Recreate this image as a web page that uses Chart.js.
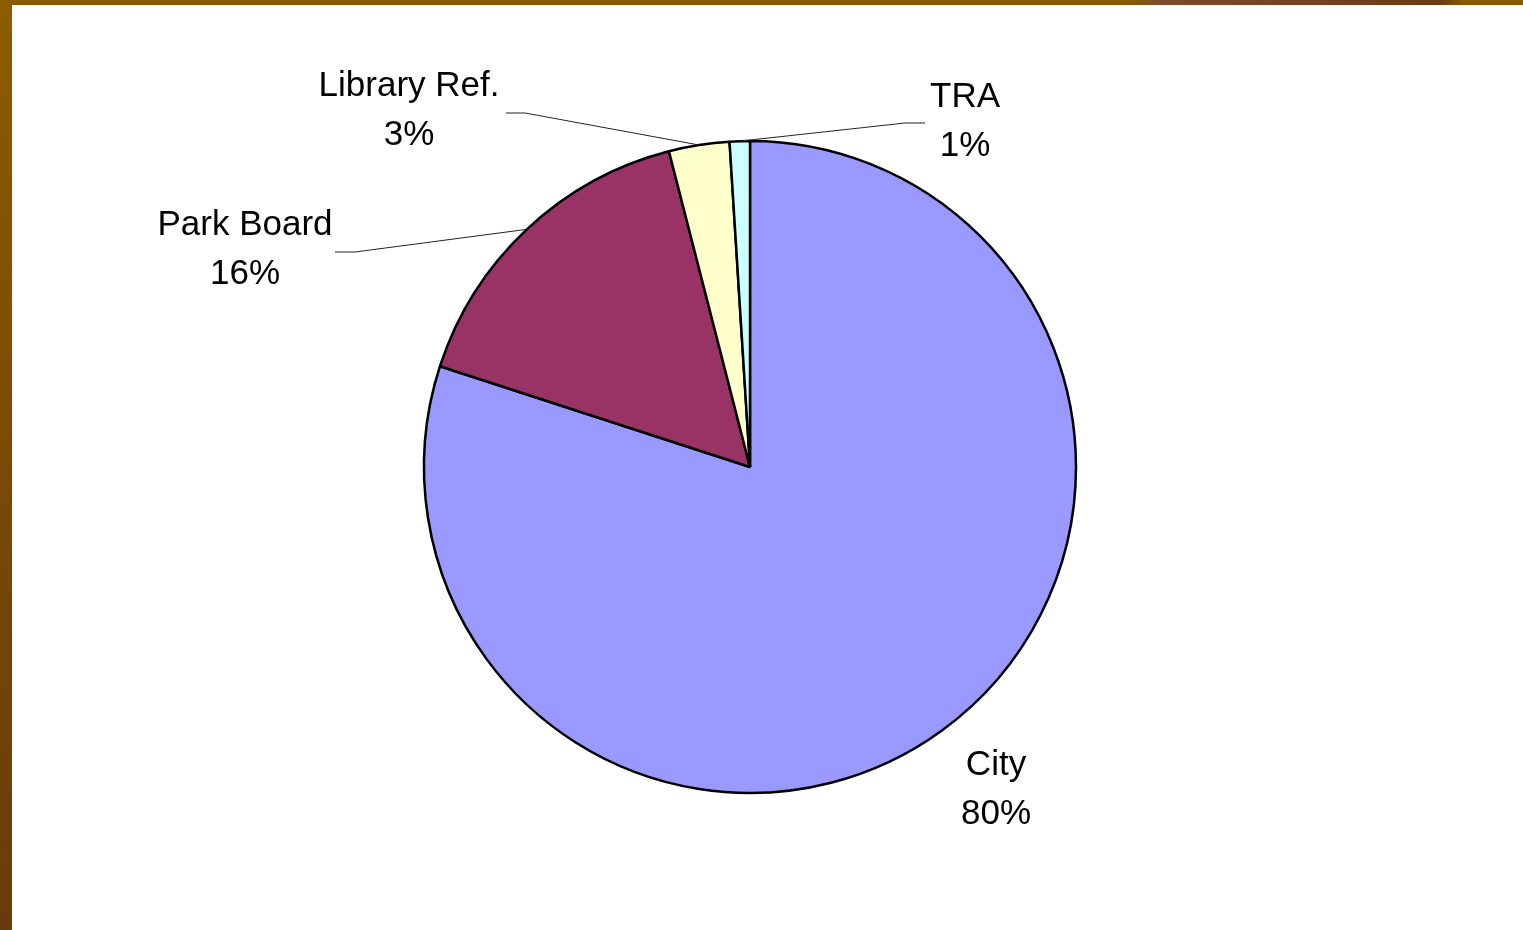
<!DOCTYPE html>
<html>
<head>
<meta charset="utf-8">
<title>Revenue share</title>
<script src="https://cdn.jsdelivr.net/npm/chart.js@4"></script>
<style>
	html, body { margin: 0; padding: 0; background: #fff; }
	body { width: 1523px; height: 930px; position: relative; overflow: hidden; }
	canvas { position: absolute; left: 0; top: 0; }
	/* slide frame: gold top rule and left bar */
	#frameTop {
		position: absolute; left: 0; top: 0; width: 1523px; height: 5px;
		background: linear-gradient(to right, #8b5a00 0, #8b5a00 1125px, #7b4b29 1160px, #6b3a14 1440px, #8b5a00 1465px, #8b5a00 100%);
	}
	#frameLeft {
		position: absolute; left: 0; top: 0; width: 12px; height: 930px;
		background: linear-gradient(to bottom, #8d5c00, #7a4a05 50%, #6a3a0a);
	}
</style>
</head>
<body>
<canvas id="chart" width="1523" height="930"></canvas>
<div id="frameTop"></div>
<div id="frameLeft"></div>
<script>
'use strict';

const
	categories = ['City', 'Park Board', 'Library Ref.', 'TRA'],
	shares = [80, 16, 3, 1],
	sliceColors = ['#9999ff', '#993366', '#ffffcc', '#ccffff'];

/**
 * Label placement, as offsets from the pie centre:
 * text centre / first baseline, and the outer two points of the leader line
 */
const labelPlacement = {
	'City': {dx: 246, dy: 308, leader: null},
	'Park Board': {dx: -505, dy: -232, leader: [[-415, -215], [-395, -215]]},
	'Library Ref.': {dx: -341, dy: -371, leader: [[-244, -354], [-225, -354]]},
	'TRA': {dx: 215, dy: -360, leader: [[175, -344], [155, -344]]}
};

const lineHeight = 49;

/**
 * Draws the category name and share under it, with leader lines to the slices
 */
const sliceLabels = {
	id: 'sliceLabels',

	afterDatasetsDraw(chart) {
		const
			ctx = chart.ctx,
			meta = chart.getDatasetMeta(0),
			total = shares.reduce((a, b) => a + b, 0);

		ctx.save();
		ctx.font = '35px "Liberation Sans", Arial, sans-serif';
		ctx.fillStyle = '#000';
		ctx.strokeStyle = '#222';
		ctx.lineWidth = 1;
		ctx.textAlign = 'center';
		ctx.textBaseline = 'alphabetic';

		meta.data.forEach((arc, i) => {
			const
				{x, y, startAngle, endAngle, outerRadius} = arc.getProps(['x', 'y', 'startAngle', 'endAngle', 'outerRadius'], true),
				place = labelPlacement[categories[i]];

			if (place.leader) {
				const mid = (startAngle + endAngle) / 2;
				ctx.beginPath();
				ctx.moveTo(x + place.leader[0][0], y + place.leader[0][1]);
				ctx.lineTo(x + place.leader[1][0], y + place.leader[1][1]);
				ctx.lineTo(x + Math.cos(mid) * outerRadius, y + Math.sin(mid) * outerRadius);
				ctx.stroke();
			}

			ctx.fillText(categories[i], x + place.dx, y + place.dy);
			ctx.fillText(Math.round(shares[i] / total * 100) + '%', x + place.dx, y + place.dy + lineHeight);
		});

		ctx.restore();
	}
};

new Chart(document.getElementById('chart').getContext('2d'), {
	type: 'pie',
	data: {
		labels: categories,
		datasets: [{
			data: shares,
			backgroundColor: sliceColors,
			borderColor: '#000',
			borderWidth: 2.5,
			hoverOffset: 0,
			radius: 326
		}]
	},
	options: {
		responsive: false,
		animation: false,
		layout: {padding: {left: 0, right: 23, top: 4, bottom: 0}},
		plugins: {
			legend: {display: false},
			tooltip: {enabled: false}
		}
	},
	plugins: [sliceLabels]
});
</script>
</body>
</html>
